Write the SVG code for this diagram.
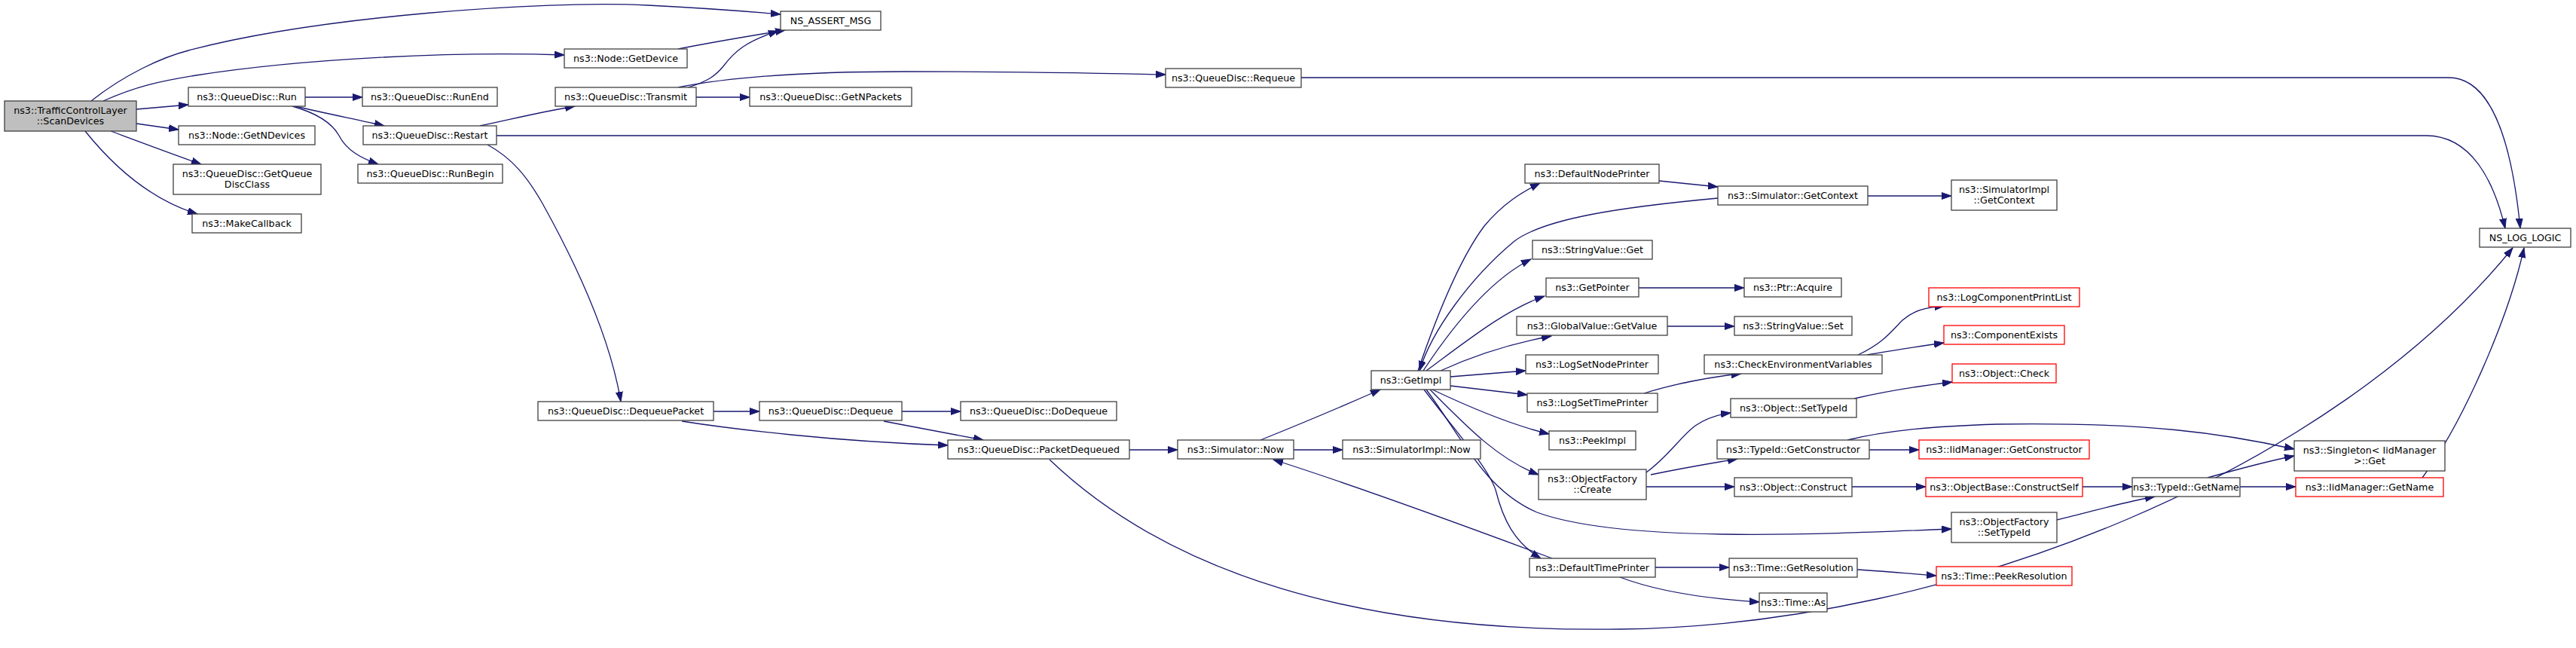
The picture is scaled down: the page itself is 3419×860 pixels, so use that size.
<svg xmlns="http://www.w3.org/2000/svg" width="3419" height="860" viewBox="0 0 3419 860">
<style>
.n rect{fill:#ffffff;stroke:#404040;stroke-width:1.3}
.n.r rect{stroke:#ff0000}
.n.g rect{fill:#bfbfbf}
.n text{font-family:"DejaVu Sans","Liberation Sans",sans-serif;font-size:12.7px;fill:#000;text-anchor:middle}
#edges path{fill:none;stroke:#191970;stroke-width:1.3;marker-end:url(#a)}
</style>
<defs>
<marker id="a" markerUnits="userSpaceOnUse" markerWidth="14" markerHeight="10" refX="13" refY="5" orient="auto"><path d="M0,0.5 L13,5 L0,9.5 z" fill="#191970" stroke="#191970"/></marker>
</defs>
<rect width="3419" height="860" fill="#ffffff"/>
<g id="edges">
<path d="M121,134 C165,99 215,76 250,67 C420,22 720,0 860,7 C960,12 1000,16 1036,19"/>
<path d="M137,134 C180,115 210,108 260,100 C400,78 600,68 749,73"/>
<path d="M181,145 L250,139"/>
<path d="M181,164 L237,172"/>
<path d="M147,174 C190,190 230,205 267,218"/>
<path d="M113,174 C150,220 200,265 262,284"/>
<path d="M405,129 L481,129"/>
<path d="M392,141 C430,150 480,160 510,167"/>
<path d="M388,141 C420,150 440,162 450,180 C460,200 480,210 502,218"/>
<path d="M637,167 C680,158 720,148 763,141"/>
<path d="M659,180 L3220,180 C3280,180 3310,240 3325,303"/>
<path d="M647,192 C680,210 700,235 720,270 C770,360 810,450 824,533"/>
<path d="M900,65 C950,55 1000,47 1042,40"/>
<path d="M913,116 C940,108 950,100 960,88 C975,68 990,55 1033,41"/>
<path d="M900,116 C960,104 1050,95 1200,95 C1350,95 1450,97 1547,99"/>
<path d="M924,129 L995,129"/>
<path d="M1727,103 L3250,103 C3310,103 3335,200 3345,303"/>
<path d="M947,546 L1008,546"/>
<path d="M905,559 C950,566 1000,572 1050,577 C1130,585 1200,589 1258,591"/>
<path d="M1197,546 L1275,546"/>
<path d="M1173,559 C1220,568 1265,576 1305,584"/>
<path d="M1499,597 L1563,597"/>
<path d="M1393,610 C1550,760 1800,840 2150,835 C2600,830 3100,620 3335,329"/>
<path d="M1673,584 C1720,565 1780,540 1832,517"/>
<path d="M1717,597 L1782,597"/>
<path d="M2060,741 C1950,700 1800,645 1690,610"/>
<path d="M1882,492 C1910,410 1940,340 1970,300 C1995,270 2020,255 2044,243"/>
<path d="M2202,240 L2280,248"/>
<path d="M2280,263 C2150,275 2050,290 2010,320 C1950,370 1900,440 1884,492"/>
<path d="M2479,260 L2590,260"/>
<path d="M1889,492 C1930,430 1980,370 2032,344"/>
<path d="M1893,492 C1950,450 2000,410 2050,393"/>
<path d="M2175,382 L2315,382"/>
<path d="M1912,492 C1960,470 2010,455 2059,446"/>
<path d="M2213,433 L2302,433"/>
<path d="M1925,500 L2025,492"/>
<path d="M1925,512 L2027,524"/>
<path d="M2182,522 C2220,510 2270,500 2311,496"/>
<path d="M2466,471 C2500,455 2510,440 2525,425 C2540,412 2555,408 2581,406"/>
<path d="M2478,471 C2510,465 2545,460 2580,455"/>
<path d="M2461,529 C2500,520 2550,512 2591,507"/>
<path d="M1901,517 C1960,545 2010,565 2056,576"/>
<path d="M1898,517 C1950,570 1990,610 2042,630"/>
<path d="M1893,517 C1940,580 1970,650 2040,680 C2150,720 2400,710 2590,702"/>
<path d="M1890,517 C1930,570 1975,620 1985,650 C1995,690 2010,720 2045,741"/>
<path d="M2185,627 C2215,605 2230,580 2250,565 C2265,555 2280,550 2297,548"/>
<path d="M2191,630 C2230,622 2270,615 2306,609"/>
<path d="M2185,646 L2302,646"/>
<path d="M2481,597 L2547,597"/>
<path d="M2452,584 C2500,572 2560,566 2650,563 C2850,560 2950,575 3045,596"/>
<path d="M2458,646 L2556,646"/>
<path d="M2764,646 L2830,646"/>
<path d="M2930,634 C2980,620 3010,612 3045,605"/>
<path d="M2973,646 L3047,646"/>
<path d="M3215,634 C3270,560 3330,420 3350,329"/>
<path d="M2730,690 C2780,678 2820,666 2860,659"/>
<path d="M2197,753 L2295,753"/>
<path d="M2150,766 C2200,785 2270,795 2335,799"/>
<path d="M2465,756 C2500,758 2540,762 2570,764"/>
</g>
<g id="n0" class="n g"><rect x="6" y="134" width="175" height="40"/><text x="93.5" y="150.5">ns3::TrafficControlLayer</text><text x="93.5" y="165">::ScanDevices</text></g>
<g id="n1" class="n"><rect x="1036" y="15" width="133" height="25"/><text x="1102.5" y="32">NS_ASSERT_MSG</text></g>
<g id="n2" class="n"><rect x="749" y="65" width="163" height="25"/><text x="830.5" y="82">ns3::Node::GetDevice</text></g>
<g id="n3" class="n"><rect x="250" y="116" width="155" height="25"/><text x="327.5" y="133">ns3::QueueDisc::Run</text></g>
<g id="n4" class="n"><rect x="237" y="167" width="181" height="25"/><text x="327.5" y="184">ns3::Node::GetNDevices</text></g>
<g id="n5" class="n"><rect x="230" y="218" width="196" height="40"/><text x="328" y="234.5">ns3::QueueDisc::GetQueue</text><text x="328" y="249">DiscClass</text></g>
<g id="n6" class="n"><rect x="255" y="284" width="145" height="25"/><text x="327.5" y="301">ns3::MakeCallback</text></g>
<g id="n7" class="n"><rect x="481" y="116" width="179" height="25"/><text x="570.5" y="133">ns3::QueueDisc::RunEnd</text></g>
<g id="n8" class="n"><rect x="482" y="167" width="177" height="25"/><text x="570.5" y="184">ns3::QueueDisc::Restart</text></g>
<g id="n9" class="n"><rect x="475" y="218" width="192" height="25"/><text x="571" y="235">ns3::QueueDisc::RunBegin</text></g>
<g id="n10" class="n"><rect x="737" y="116" width="187" height="25"/><text x="830.5" y="133">ns3::QueueDisc::Transmit</text></g>
<g id="n11" class="n"><rect x="995" y="116" width="215" height="25"/><text x="1102.5" y="133">ns3::QueueDisc::GetNPackets</text></g>
<g id="n12" class="n"><rect x="1547" y="91" width="180" height="25"/><text x="1637" y="108">ns3::QueueDisc::Requeue</text></g>
<g id="n13" class="n"><rect x="3291" y="303" width="121" height="25"/><text x="3351.5" y="320">NS_LOG_LOGIC</text></g>
<g id="n14" class="n"><rect x="714" y="533" width="233" height="25"/><text x="830.5" y="550">ns3::QueueDisc::DequeuePacket</text></g>
<g id="n15" class="n"><rect x="1008" y="533" width="189" height="25"/><text x="1102.5" y="550">ns3::QueueDisc::Dequeue</text></g>
<g id="n16" class="n"><rect x="1275" y="533" width="207" height="25"/><text x="1378.5" y="550">ns3::QueueDisc::DoDequeue</text></g>
<g id="n17" class="n"><rect x="1258" y="584" width="241" height="25"/><text x="1378.5" y="601">ns3::QueueDisc::PacketDequeued</text></g>
<g id="n18" class="n"><rect x="1563" y="584" width="154" height="25"/><text x="1640" y="601">ns3::Simulator::Now</text></g>
<g id="n19" class="n"><rect x="1782" y="584" width="183" height="25"/><text x="1873.5" y="601">ns3::SimulatorImpl::Now</text></g>
<g id="n20" class="n"><rect x="1820" y="492" width="105" height="25"/><text x="1872.5" y="509">ns3::GetImpl</text></g>
<g id="n21" class="n"><rect x="2024" y="218" width="178" height="25"/><text x="2113" y="235">ns3::DefaultNodePrinter</text></g>
<g id="n22" class="n"><rect x="2280" y="247" width="199" height="25"/><text x="2379.5" y="264">ns3::Simulator::GetContext</text></g>
<g id="n23" class="n"><rect x="2590" y="239" width="140" height="40"/><text x="2660" y="255.5">ns3::SimulatorImpl</text><text x="2660" y="270">::GetContext</text></g>
<g id="n24" class="n"><rect x="2034" y="319" width="159" height="25"/><text x="2113.5" y="336">ns3::StringValue::Get</text></g>
<g id="n25" class="n"><rect x="2052" y="369" width="123" height="25"/><text x="2113.5" y="386">ns3::GetPointer</text></g>
<g id="n26" class="n"><rect x="2315" y="369" width="129" height="25"/><text x="2379.5" y="386">ns3::Ptr::Acquire</text></g>
<g id="n27" class="n"><rect x="2013" y="420" width="200" height="25"/><text x="2113" y="437">ns3::GlobalValue::GetValue</text></g>
<g id="n28" class="n"><rect x="2302" y="420" width="156" height="25"/><text x="2380" y="437">ns3::StringValue::Set</text></g>
<g id="n29" class="n"><rect x="2025" y="471" width="176" height="25"/><text x="2113" y="488">ns3::LogSetNodePrinter</text></g>
<g id="n30" class="n"><rect x="2027" y="522" width="173" height="25"/><text x="2113.5" y="539">ns3::LogSetTimePrinter</text></g>
<g id="n31" class="n"><rect x="2262" y="471" width="236" height="25"/><text x="2380" y="488">ns3::CheckEnvironmentVariables</text></g>
<g id="n32" class="n r"><rect x="2560" y="382" width="200" height="25"/><text x="2660" y="399">ns3::LogComponentPrintList</text></g>
<g id="n33" class="n r"><rect x="2580" y="432" width="160" height="25"/><text x="2660" y="449">ns3::ComponentExists</text></g>
<g id="n34" class="n r"><rect x="2591" y="483" width="138" height="25"/><text x="2660" y="500">ns3::Object::Check</text></g>
<g id="n35" class="n"><rect x="2297" y="529" width="167" height="25"/><text x="2380.5" y="546">ns3::Object::SetTypeId</text></g>
<g id="n36" class="n"><rect x="2056" y="572" width="115" height="25"/><text x="2113.5" y="589">ns3::PeekImpl</text></g>
<g id="n37" class="n"><rect x="2279" y="584" width="202" height="25"/><text x="2380" y="601">ns3::TypeId::GetConstructor</text></g>
<g id="n38" class="n r"><rect x="2547" y="584" width="226" height="25"/><text x="2660" y="601">ns3::IidManager::GetConstructor</text></g>
<g id="n39" class="n"><rect x="2042" y="623" width="143" height="40"/><text x="2113.5" y="639.5">ns3::ObjectFactory</text><text x="2113.5" y="654">::Create</text></g>
<g id="n40" class="n"><rect x="2302" y="634" width="156" height="25"/><text x="2380" y="651">ns3::Object::Construct</text></g>
<g id="n41" class="n r"><rect x="2556" y="634" width="208" height="25"/><text x="2660" y="651">ns3::ObjectBase::ConstructSelf</text></g>
<g id="n42" class="n"><rect x="2830" y="634" width="143" height="25"/><text x="2901.5" y="651">ns3::TypeId::GetName</text></g>
<g id="n43" class="n"><rect x="3045" y="585" width="200" height="40"/><text x="3145" y="601.5">ns3::Singleton&lt; IidManager</text><text x="3145" y="616">&gt;::Get</text></g>
<g id="n44" class="n r"><rect x="3047" y="634" width="196" height="25"/><text x="3145" y="651">ns3::IidManager::GetName</text></g>
<g id="n45" class="n"><rect x="2590" y="680" width="140" height="40"/><text x="2660" y="696.5">ns3::ObjectFactory</text><text x="2660" y="711">::SetTypeId</text></g>
<g id="n46" class="n"><rect x="2030" y="741" width="167" height="25"/><text x="2113.5" y="758">ns3::DefaultTimePrinter</text></g>
<g id="n47" class="n"><rect x="2295" y="741" width="170" height="25"/><text x="2380" y="758">ns3::Time::GetResolution</text></g>
<g id="n48" class="n r"><rect x="2570" y="752" width="180" height="25"/><text x="2660" y="769">ns3::Time::PeekResolution</text></g>
<g id="n49" class="n"><rect x="2335" y="787" width="90" height="25"/><text x="2380" y="804">ns3::Time::As</text></g>
</svg>
